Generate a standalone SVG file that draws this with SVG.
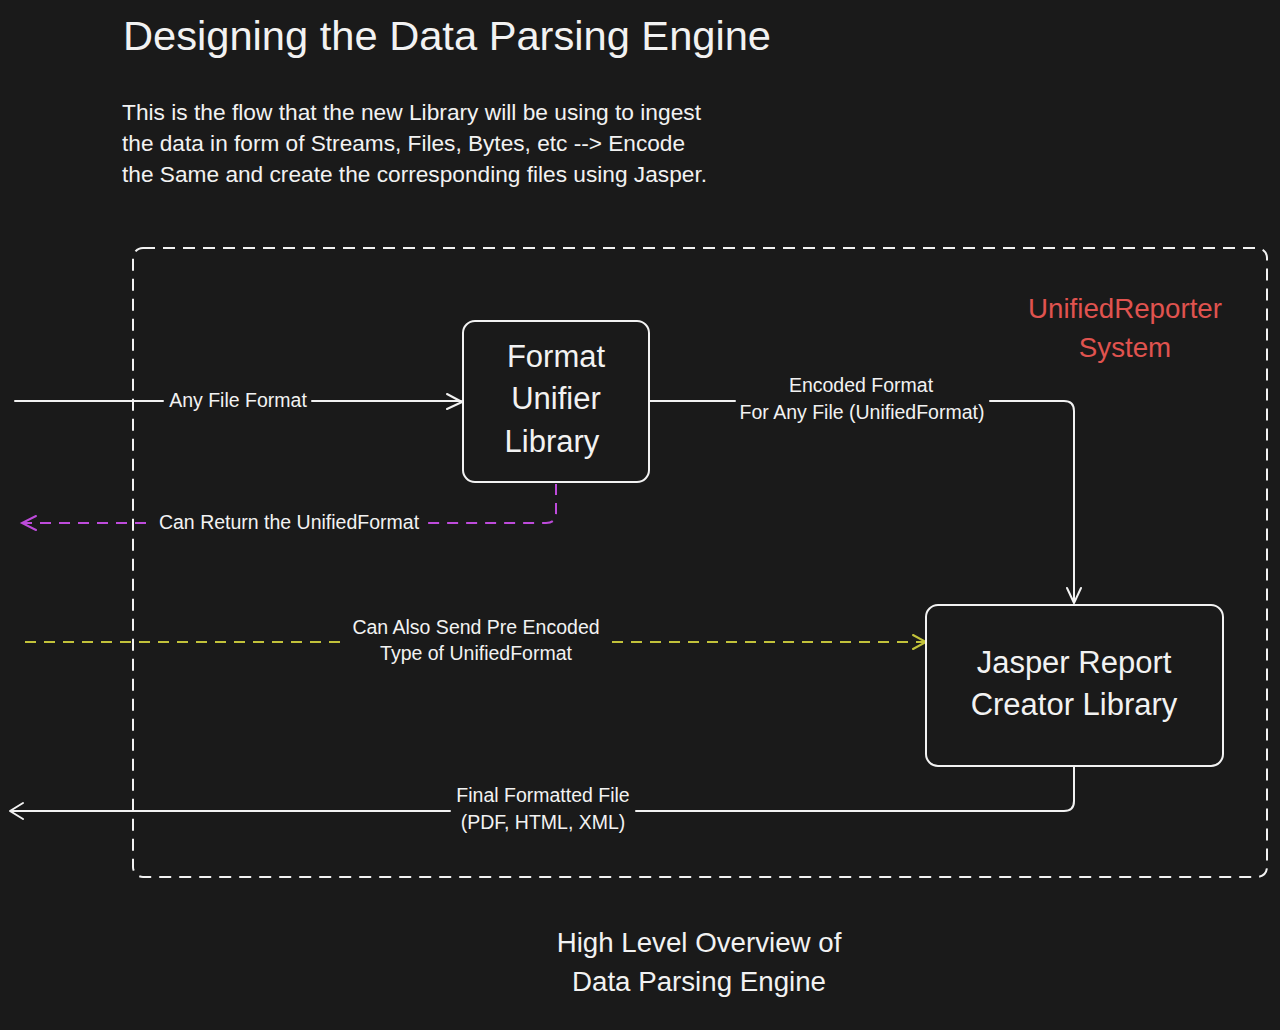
<svg xmlns="http://www.w3.org/2000/svg" width="1280" height="1030" viewBox="0 0 1280 1030">
<style>
text{font-family:"Liberation Sans","Noto Sans",sans-serif;fill:#f2f2f2}
.title{font-size:40px}
.para{font-size:21.5px}
.node{font-size:31px;text-anchor:middle}
.lbl{font-size:19.5px;text-anchor:middle}
.red{fill:#e0534f;font-size:27.7px;text-anchor:middle}
.cap{font-size:27.7px;text-anchor:middle}
.box{fill:#1a1a1a;stroke:#f2f2f2;stroke-width:2}
.ln{fill:none;stroke:#f2f2f2;stroke-width:2;stroke-linecap:round;stroke-linejoin:round}
.mag{fill:none;stroke:#be4bdb;stroke-width:2;stroke-dasharray:11 8}
.yel{fill:none;stroke:#c2c23a;stroke-width:2;stroke-dasharray:11 8}
</style>
<rect width="1280" height="1030" fill="#1a1a1a"/>
<g id="title">
<text class="title" x="123" y="50" textLength="648" lengthAdjust="spacingAndGlyphs">Designing the Data Parsing Engine</text>
</g>
<g id="description">
<text class="para" x="122" y="120" textLength="579" lengthAdjust="spacingAndGlyphs">This is the flow that the new Library will be using to ingest</text>
<text class="para" x="122" y="151" textLength="563" lengthAdjust="spacingAndGlyphs">the data in form of Streams, Files, Bytes, etc --&gt; Encode</text>
<text class="para" x="122" y="182" textLength="585" lengthAdjust="spacingAndGlyphs">the Same and create the corresponding files using Jasper.</text>
</g>
<g id="system-boundary">
<rect x="133" y="248" width="1134" height="629" rx="10" fill="none" stroke="#f2f2f2" stroke-width="2" stroke-dasharray="12 8"/>
<text class="red" x="1125" y="318">UnifiedReporter</text>
<text class="red" x="1125" y="357">System</text>
</g>
<g id="connectors">
<path class="ln" d="M15 401 H163 M312 401 H461"/>
<path class="ln" d="M447 394 L462 402 L447 409"/>
<text class="lbl" x="238" y="407">Any File Format</text>
<path class="ln" d="M650 401 H735 M990 401 H1064 Q1074 401 1074 411 V602"/>
<path class="ln" d="M1067 588 L1074 603 L1081 588"/>
<text class="lbl" x="861" y="392">Encoded Format</text>
<text class="lbl" x="862" y="419">For Any File (UnifiedFormat)</text>
<path class="mag" d="M556 484 V513 Q556 523 546 523 H426 M146 523 H24"/>
<path d="M36 516 L22 523 L36 530" fill="none" stroke="#be4bdb" stroke-width="2" stroke-linecap="round"/>
<text class="lbl" x="289" y="529">Can Return the UnifiedFormat</text>
<path class="yel" d="M25 642 H342 M612 642 H924"/>
<path d="M913 635 L926 642 L913 649" fill="none" stroke="#c2c23a" stroke-width="2" stroke-linecap="round"/>
<text class="lbl" x="476" y="634">Can Also Send Pre Encoded</text>
<text class="lbl" x="476" y="660">Type of UnifiedFormat</text>
<path class="ln" d="M1074 767 V801 Q1074 811 1064 811 H636 M450 811 H11"/>
<path class="ln" d="M23 803 L10 811 L23 819"/>
<text class="lbl" x="543" y="802">Final Formatted File</text>
<text class="lbl" x="543" y="829">(PDF, HTML, XML)</text>
</g>
<g id="format-unifier">
<rect class="box" x="463" y="321" width="186" height="161" rx="12"/>
<text class="node" x="556" y="367">Format</text>
<text class="node" x="556" y="409">Unifier</text>
<text class="node" x="552" y="452">Library</text>
</g>
<g id="jasper-creator">
<rect class="box" x="926" y="605" width="297" height="161" rx="12"/>
<text class="node" x="1074" y="673">Jasper Report</text>
<text class="node" x="1074" y="715">Creator Library</text>
</g>
<g id="caption">
<text class="cap" x="699" y="952">High Level Overview of</text>
<text class="cap" x="699" y="991">Data Parsing Engine</text>
</g>
</svg>
